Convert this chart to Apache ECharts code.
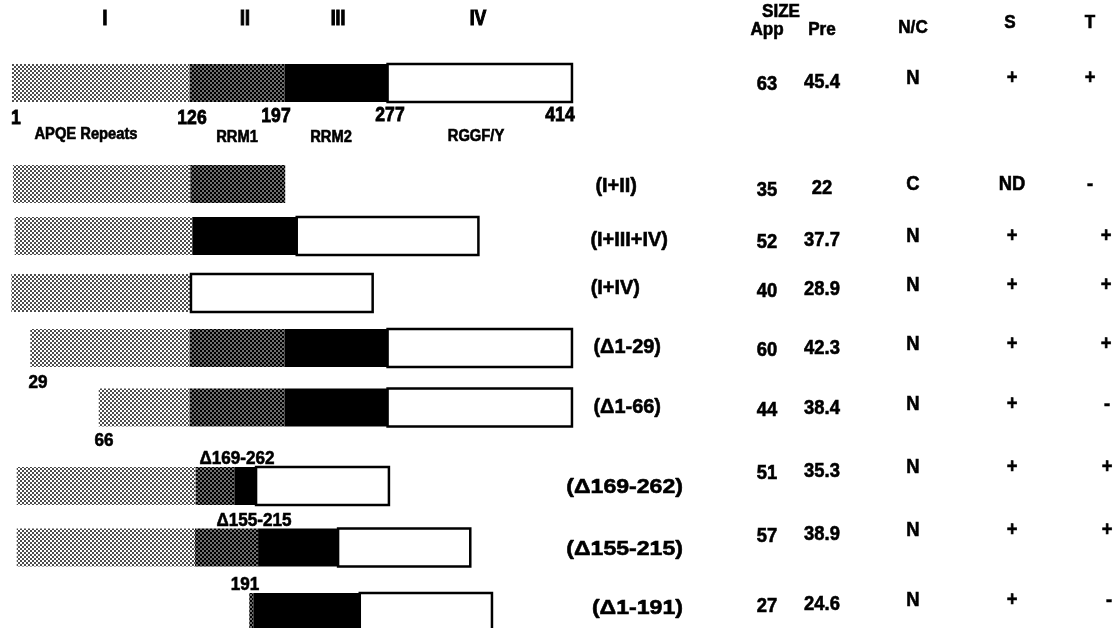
<!DOCTYPE html>
<html><head><meta charset="utf-8">
<script src="https://cdn.jsdelivr.net/npm/echarts@6/dist/echarts.min.js"></script>
<style>html,body{margin:0;padding:0;background:#fff}#c{width:1120px;height:628px}</style>
</head><body><div id="c"></div>
<script>
// ---------------- data ----------------
const constructNames = ['', '(I+II)', '(I+III+IV)', '(I+IV)', '(Δ1-29)', '(Δ1-66)', '(Δ169-262)', '(Δ155-215)', '(Δ1-191)'];
// segments as drawn in the schematic: [row, start, end, domain] (domain 0=I,1=II,2=III,3=IV), residue-scale units
const segments = [
  [0, 1, 132, 0], [0, 132, 202, 1], [0, 202, 278, 2], [0, 278, 414, 3],
  [1, 1.7, 132.5, 0], [1, 132.5, 202.5, 1],
  [2, 3, 134, 0], [2, 134, 211, 2], [2, 211, 345, 3],
  [3, 0.5, 133, 0], [3, 133, 267, 3],
  [4, 14.5, 132, 0], [4, 132, 202, 1], [4, 202, 278, 2], [4, 278, 414, 3],
  [5, 65, 132, 0], [5, 132, 202, 1], [5, 202, 278, 2], [5, 278, 414, 3],
  [6, 4.5, 136.5, 0], [6, 136.5, 165, 1], [6, 165, 181, 2], [6, 181, 279, 3],
  [7, 4.5, 136, 0], [7, 136, 182.5, 1], [7, 182.5, 241.5, 2], [7, 241.5, 339, 3],
  [8, 176, 179, 1], [8, 179, 257.5, 2], [8, 257.5, 355, 3]
];
const domainNumerals = ['I', 'II', 'III', 'IV'];
const residueMarks = ['1', '126', '197', '277', '414'];
const domainNames = ['APQE Repeats', 'RRM1', 'RRM2', 'RGGF/Y'];
const deletionMarks = ['29', '66', 'Δ169-262', 'Δ155-215', '191'];
const tableHeaders = ['App', 'Pre', 'N/C', 'S', 'T'];
const sizeApp = ['63', '35', '52', '40', '60', '44', '51', '57', '27'];
const sizePre = ['45.4', '22', '37.7', '28.9', '42.3', '38.4', '35.3', '38.9', '24.6'];
const nucCyto = ['N', 'C', 'N', 'N', 'N', 'N', 'N', 'N', 'N'];
const colS = ['+', 'ND', '+', '+', '+', '+', '+', '+', '+'];
const colT = ['+', '-', '+', '+', '+', '-', '+', '+', '-'];

// ---------------- layout (page units) ----------------
const rowY = [83, 184, 236, 293, 348, 407.5, 486, 547.5, 612];
const barH = 38;
const numeralXY = [[105, 19], [245, 19], [338, 19], [478, 19]];
const residueMarkXY = [[16, 118], [192, 118], [276, 116], [390, 115], [560, 115]];
const domainNameXY = [[86, 135], [237, 138], [331, 138], [476, 137]];
const deletionXY = [[38, 383], [104, 441], [237, 459], [254, 521], [245, 585]];
const constructRightX = [0, 637, 668, 640, 661, 661, 683, 683, 683];
const constructY = [0, 186, 240, 288, 347, 407, 487, 549, 608];
const sizeHeaderXY = [781, 12];
const headerXY = [[767, 30], [822, 30], [913, 28], [1010, 23], [1090, 23]];
const colX = [767, 822, 913, 1012, 1090];
const colTX = [1090, 1090, 1106, 1106, 1106, 1107, 1107, 1107, 1109];
const colDY = [3, 1, -3, -3, -3];
const tableRowY = [81, 187, 239, 288, 347, 407, 470, 533, 603];

// ---------------- patterns ----------------
function makePattern(bg, dot, r) {
  const c = document.createElement('canvas');
  c.width = 4; c.height = 4;
  const g = c.getContext('2d');
  g.fillStyle = bg; g.fillRect(0, 0, 4, 4);
  g.fillStyle = dot;
  [[1, 1], [3, 3]].forEach(p => { g.beginPath(); g.arc(p[0], p[1], r, 0, Math.PI * 2); g.fill(); });
  return { image: c, repeat: 'repeat' };
}
const fills = [
  makePattern('#ffffff', '#000000', 0.95),
  makePattern('#000000', '#ffffff', 0.8),
  '#000000',
  '#ffffff'
];

const FONT = '"Liberation Sans", Arial, Helvetica, sans-serif';

function textSeries(items, font, opts) {
  opts = opts || {};
  return {
    type: 'custom', xAxisIndex: 1, yAxisIndex: 1, silent: true, clip: false,
    data: items.map(it => [it.x, it.y]),
    renderItem: function (params, api) {
      const it = items[params.dataIndex];
      const p = api.coord([api.value(0), api.value(1)]);
      return {
        type: 'text', x: p[0], y: p[1], scaleX: opts.scaleX || 1,
        style: {
          text: it.text, font: font, fill: '#000',
          stroke: '#000', lineWidth: opts.stroke == null ? 0.6 : opts.stroke,
          align: opts.align || 'center', verticalAlign: 'middle'
        }
      };
    }
  };
}

const numeralItems = domainNumerals.map((t, i) => ({ x: numeralXY[i][0], y: numeralXY[i][1], text: t }));
const residueItems = residueMarks.map((t, i) => ({ x: residueMarkXY[i][0], y: residueMarkXY[i][1], text: t }));
const domainNameItems = domainNames.map((t, i) => ({ x: domainNameXY[i][0], y: domainNameXY[i][1], text: t }));
const deletionItems = deletionMarks.map((t, i) => ({ x: deletionXY[i][0], y: deletionXY[i][1], text: t }));
const constructItemsA = constructNames.map((t, i) => ({ x: constructRightX[i], y: constructY[i], text: t, i: i }))
  .filter(d => d.text && d.i < 6);
const constructItemsB = constructNames.map((t, i) => ({ x: constructRightX[i], y: constructY[i], text: t, i: i }))
  .filter(d => d.text && d.i >= 6);
const headerItems = [{ x: sizeHeaderXY[0], y: sizeHeaderXY[1], text: 'SIZE' }].concat(
  tableHeaders.map((t, i) => ({ x: headerXY[i][0], y: headerXY[i][1], text: t })));
const tableCols = [sizeApp, sizePre, nucCyto, colS, colT];
const cellItems = [];
tableCols.forEach((col, ci) => col.forEach((v, ri) => cellItems.push({
  x: ci === 4 ? colTX[ri] : colX[ci], y: tableRowY[ri] + colDY[ci], text: v
})));

const chart = echarts.init(document.getElementById('c'), null, { renderer: 'canvas' });
chart.setOption({
  animation: false,
  backgroundColor: '#ffffff',
  grid: [
    { left: 10.64, right: 0, top: 0, bottom: 0 },
    { left: 0, right: 0, top: 0, bottom: 0 }
  ],
  xAxis: [
    { type: 'value', gridIndex: 0, min: 0, max: 818.2, show: false },
    { type: 'value', gridIndex: 1, min: 0, max: 1120, show: false }
  ],
  yAxis: [
    { type: 'value', gridIndex: 0, min: 0, max: 628, inverse: true, show: false },
    { type: 'value', gridIndex: 1, min: 0, max: 628, inverse: true, show: false }
  ],
  series: [
    {
      type: 'custom', xAxisIndex: 0, yAxisIndex: 0, silent: true, clip: false,
      data: segments.map(s => [s[1], s[2], rowY[s[0]], s[3]]),
      renderItem: function (params, api) {
        const a = api.coord([api.value(0), api.value(2)]);
        const b = api.coord([api.value(1), api.value(2)]);
        const h = api.size([0, barH])[1];
        const d = api.value(3);
        return {
          type: 'rect',
          shape: { x: a[0], y: a[1] - h / 2, width: b[0] - a[0], height: h },
          style: {
            fill: fills[d],
            stroke: d === 3 ? '#000' : null,
            lineWidth: d === 3 ? 2.5 : 0
          }
        };
      }
    },
    textSeries(numeralItems, 'bold 22px ' + FONT, { scaleX: 0.8, stroke: 1.2 }),
    textSeries(residueItems, 'bold 20px ' + FONT, { scaleX: 0.88, stroke: 0.8 }),
    textSeries(domainNameItems, 'bold 16px ' + FONT, { scaleX: 0.92 }),
    textSeries(deletionItems, 'bold 18px ' + FONT, { scaleX: 0.95 }),
    textSeries(constructItemsA, 'bold 21px ' + FONT, { align: 'right', scaleX: 0.95 }),
    textSeries(constructItemsB, 'bold 21px ' + FONT, { align: 'right', scaleX: 1.1 }),
    textSeries(headerItems, 'bold 18px ' + FONT, { scaleX: 0.95 }),
    textSeries(cellItems, 'bold 20px ' + FONT, { scaleX: 0.92 })
  ]
});
</script>
</body></html>
